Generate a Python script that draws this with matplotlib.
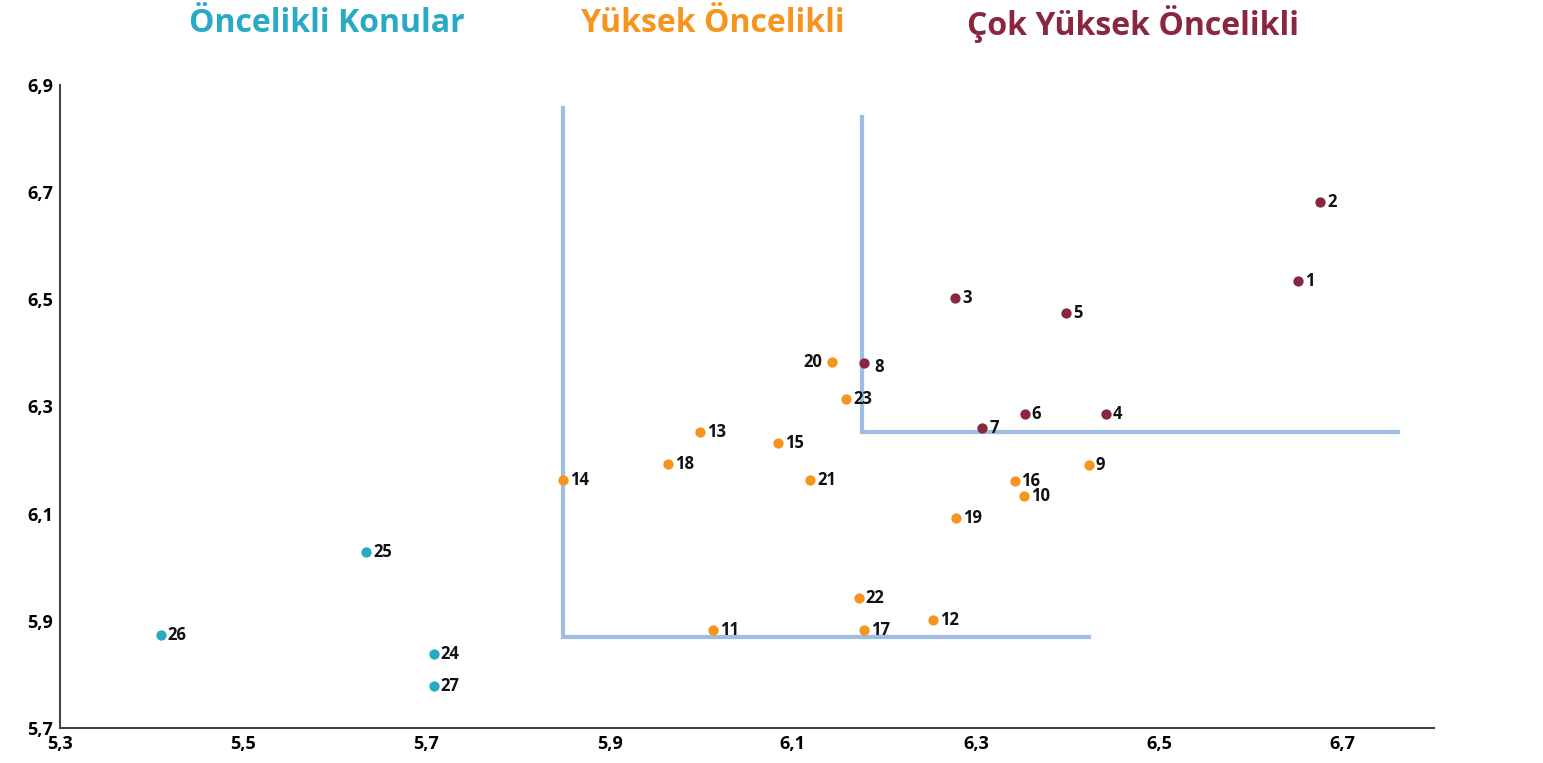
import matplotlib.pyplot as plt

# veri
ids = [1, 2, 3, 4, 5, 6, 7, 8, 9, 10, 11, 12, 13, 14, 15, 16, 17, 18, 19,
       20, 21, 22, 23, 24, 25, 26, 27]
xs = [6.652, 6.676, 6.277, 6.442, 6.398, 6.353, 6.307, 6.178, 6.423, 6.352,
      6.013, 6.253, 5.999, 5.849, 6.084, 6.342, 6.178, 5.964, 6.278, 6.143,
      6.119, 6.172, 6.158, 5.708, 5.634, 5.410, 5.708]
ys = [6.534, 6.682, 6.503, 6.286, 6.475, 6.286, 6.260, 6.381, 6.191, 6.133,
      5.883, 5.902, 6.253, 6.163, 6.232, 6.161, 5.883, 6.193, 6.092, 6.383,
      6.163, 5.943, 6.314, 5.838, 6.029, 5.874, 5.779]
groups = ['c', 'c', 'c', 'c', 'c', 'c', 'c', 'c', 'y', 'y', 'y', 'y', 'y',
          'y', 'y', 'y', 'y', 'y', 'y', 'y', 'y', 'y', 'y', 'o', 'o', 'o', 'o']

# sinir cizgileri
left_x = [5.849, 5.849, 6.423]
left_y = [6.857, 5.870, 5.870]
right_x = [6.176, 6.176, 6.761]
right_y = [6.840, 6.253, 6.253]

xticks = [5.3, 5.5, 5.7, 5.9, 6.1, 6.3, 6.5, 6.7]
yticks = [5.7, 5.9, 6.1, 6.3, 6.5, 6.7, 6.9]
titles = ['Öncelikli Konular', 'Yüksek Öncelikli', 'Çok Yüksek Öncelikli']

colors = {'o': '#2aa9c5', 'y': '#f7941d', 'c': '#8a2740'}
line_color = '#9dbde2'

plt.rcParams['font.family'] = ['Open Sans', 'DejaVu Sans']

fig = plt.figure(figsize=(15.43, 7.63), dpi=100)
ax = fig.add_axes([0.0389, 0.0459, 0.8905, 0.8427])

ax.plot(left_x, left_y, color=line_color, lw=3, solid_joinstyle='miter', zorder=1)
ax.plot(right_x, right_y, color=line_color, lw=3, solid_joinstyle='miter', zorder=1)

for i in range(len(ids)):
    ax.scatter(xs[i], ys[i], s=55, color=colors[groups[i]], zorder=3, linewidths=0)
    if ids[i] == 20:
        ax.annotate(str(ids[i]), (xs[i], ys[i]), xytext=(-7, 0), textcoords='offset points',
                    ha='right', va='center', fontsize=12, fontweight='bold', color='#111111')
    elif ids[i] == 8:
        ax.annotate(str(ids[i]), (xs[i], ys[i]), xytext=(7, -3), textcoords='offset points',
                    ha='left', va='center', fontsize=12, fontweight='bold', color='#111111')
    else:
        ax.annotate(str(ids[i]), (xs[i], ys[i]), xytext=(5, 0), textcoords='offset points',
                    ha='left', va='center', fontsize=12, fontweight='bold', color='#111111')

ax.set_xlim(5.3, 6.8)
ax.set_ylim(5.7, 6.9)
ax.set_xticks(xticks)
ax.set_yticks(yticks)
ax.set_xticklabels([str(v).replace('.', ',') for v in xticks], fontsize=13, fontweight='bold')
ax.set_yticklabels([str(v).replace('.', ',') for v in yticks], fontsize=13, fontweight='bold')
ax.tick_params(length=0, pad=5)
for s in ['top', 'right']:
    ax.spines[s].set_visible(False)
for s in ['left', 'bottom']:
    ax.spines[s].set_color('#444444')
    ax.spines[s].set_linewidth(1.5)

fig.text(327 / 1543, 1 - 24 / 763, titles[0], ha='center', va='center', fontsize=23,
         fontweight='bold', color=colors['o'])
fig.text(713 / 1543, 1 - 24 / 763, titles[1], ha='center', va='center', fontsize=23,
         fontweight='bold', color=colors['y'])
fig.text(1133 / 1543, 1 - 24 / 763, titles[2], ha='center', va='center', fontsize=23,
         fontweight='bold', color=colors['c'])

fig.savefig('out.png', dpi=100)
